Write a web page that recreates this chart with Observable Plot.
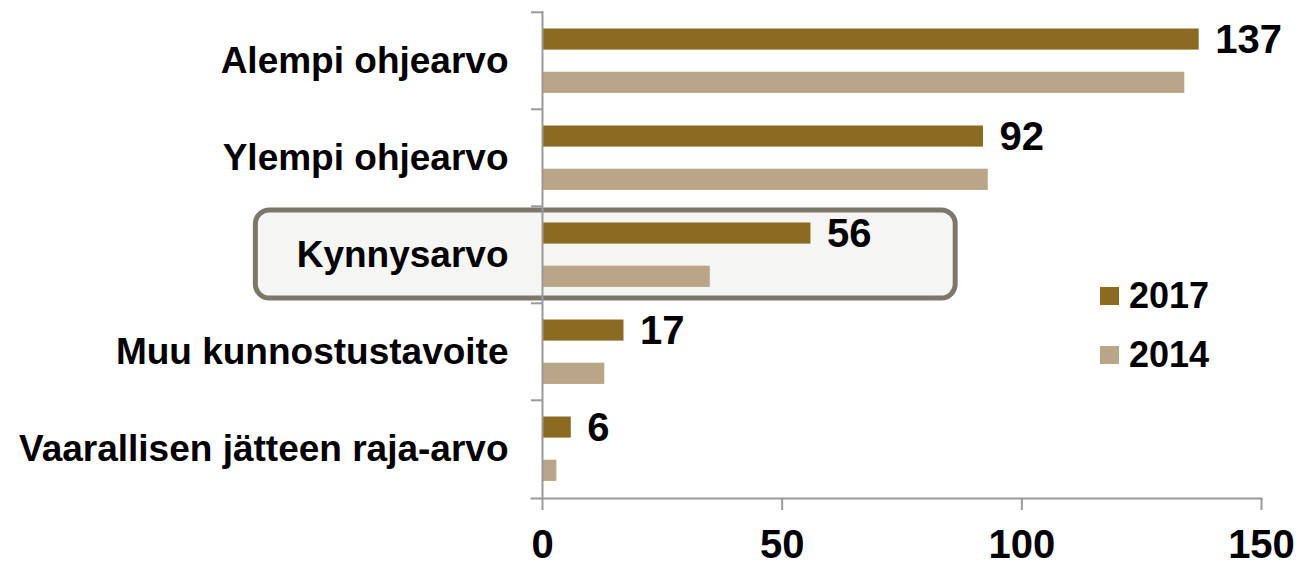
<!DOCTYPE html>
<html>
<head>
<meta charset="utf-8">
<script src="https://cdn.jsdelivr.net/npm/d3@7"></script>
<script src="https://cdn.jsdelivr.net/npm/@observablehq/plot@0.6"></script>
<style>
  html, body { margin: 0; padding: 0; background: #fff; }
  #wrap { position: relative; width: 1299px; height: 567px; font-family: "Liberation Sans", Arial, sans-serif; }
  #legend { position: absolute; left: 1100px; top: 278px; font-weight: bold; font-size: 36px; color: #000; }
  .item { display: flex; align-items: center; height: 36px; margin-bottom: 23px; }
  .sw { width: 19px; height: 18px; margin-right: 10px; }
</style>
</head>
<body>
<div id="wrap"></div>
<script>
const categories = ["Alempi ohjearvo", "Ylempi ohjearvo", "Kynnysarvo", "Muu kunnostustavoite", "Vaarallisen jätteen raja-arvo"];
const values2017 = [137, 92, 56, 17, 6];
const values2014 = [134, 93, 35, 13, 3];
const xTicks = [0, 50, 100, 150];
const seriesNames = ["2017", "2014"];
const seriesColors = ["#8B6B22", "#B9A587"];
const highlight = {category: "Kynnysarvo", from: -59.8, to: 86.2};

const rows = categories.map((c, i) => ({cat: c, v2017: values2017[i], v2014: values2014[i]}));
const band = (567 - 11 - 69) / categories.length;
const axisColor = "#9a9a9a";

const chart = Plot.plot({
  width: 1299,
  height: 567,
  marginLeft: 542,
  marginRight: 38,
  marginTop: 11,
  marginBottom: 69,
  style: {fontFamily: "'Liberation Sans', Arial, sans-serif", background: "transparent", overflow: "visible"},
  x: {domain: [0, 150], ticks: xTicks},
  y: {domain: categories, padding: 0},
  marks: [
    Plot.barX([highlight], {
      y: d => d.category, x1: d => d.from, x2: d => d.to,
      insetTop: 4, insetBottom: 5, rx: 14,
      fill: "#f5f5f3", stroke: "#7d776b", strokeWidth: 5
    }),
    Plot.barX(rows, {x: "v2017", y: "cat", insetTop: 16.5, insetBottom: band - 38, fill: seriesColors[0]}),
    Plot.barX(rows, {x: "v2014", y: "cat", insetTop: 59.7, insetBottom: band - 81.3, fill: seriesColors[1]}),
    Plot.text(rows, {
      x: "v2017", y: "cat", text: d => String(d.v2017),
      dx: 16, dy: -band / 2 + 28,
      textAnchor: "start", fontSize: 40, fontWeight: "bold", fill: "#000"
    }),
    Plot.ruleX([0], {stroke: axisColor, strokeWidth: 2}),
    Plot.ruleY(categories, {y: d => d, dy: -band / 2, x1: 0, x2: 0, insetLeft: -11, stroke: axisColor, strokeWidth: 2}),
    Plot.frame({anchor: "bottom", stroke: axisColor, strokeWidth: 2, insetLeft: -11}),
    Plot.axisY({tickSize: 0, tickPadding: 34, fontSize: 37, fontWeight: "bold", fill: "#000", label: null}),
    Plot.axisX({ticks: xTicks, tickSize: 12, tickPadding: 19, fontSize: 40, fontWeight: "bold", fill: "#000", stroke: axisColor, strokeWidth: 2, label: null})
  ]
});

const wrap = document.getElementById("wrap");
wrap.appendChild(chart);
const legend = document.createElement("div");
legend.id = "legend";
seriesNames.forEach((n, i) => {
  const item = document.createElement("div");
  item.className = "item";
  const sw = document.createElement("div");
  sw.className = "sw";
  sw.style.background = seriesColors[i];
  const t = document.createElement("span");
  t.textContent = n;
  item.appendChild(sw);
  item.appendChild(t);
  legend.appendChild(item);
});
wrap.appendChild(legend);
</script>
</body>
</html>
